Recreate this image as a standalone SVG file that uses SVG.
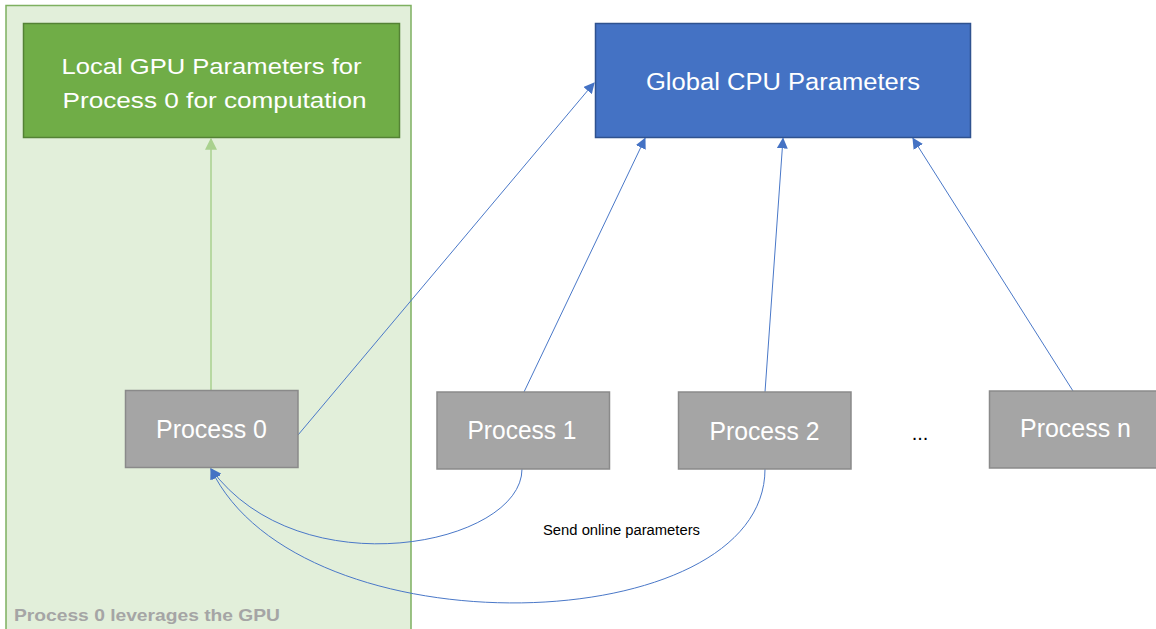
<svg xmlns="http://www.w3.org/2000/svg" width="1156" height="629" viewBox="0 0 1156 629">
  <style>
    .lbl { font-family: "Liberation Sans", Arial, sans-serif; fill: #ffffff; text-anchor: middle; }
    .proc rect { fill: #a5a5a5; stroke: #8a8a8a; stroke-width: 1.5; }
    .proc text { font-size: 25px; }
    .link { fill: none; stroke: #4a78c8; stroke-width: 1; }
  </style>
  <defs>
    <marker id="arrowBlue" viewBox="0 0 10 10" refX="9" refY="5" markerWidth="11" markerHeight="11" markerUnits="userSpaceOnUse" orient="auto">
      <path d="M0,0 L10,5 L0,10 Z" fill="#4472c4"/>
    </marker>
    <marker id="arrowGreen" viewBox="0 0 10 10" refX="9" refY="5" markerWidth="12" markerHeight="12" markerUnits="userSpaceOnUse" orient="auto">
      <path d="M0,0 L10,5 L0,10 Z" fill="#a9d18e"/>
    </marker>
  </defs>

  <rect width="1156" height="629" fill="#ffffff"/>

  <!-- GPU region -->
  <g id="gpu-region">
    <rect x="6" y="5.5" width="405" height="630" fill="#e2efda" stroke="#7eb060" stroke-width="1.5"/>
    <text x="14" y="621" font-family="Liberation Sans, Arial, sans-serif" font-size="17" font-weight="bold" fill="#a5a5a5" textLength="266" lengthAdjust="spacingAndGlyphs">Process 0 leverages the GPU</text>
  </g>

  <!-- Connectors -->
  <g id="connectors">
    <line x1="211" y1="390" x2="211" y2="139" stroke="#a9d18e" stroke-width="1.5" marker-end="url(#arrowGreen)"/>
    <line class="link" x1="298" y1="435" x2="594" y2="83" marker-end="url(#arrowBlue)"/>
    <line class="link" x1="524" y1="392" x2="645" y2="138.5" marker-end="url(#arrowBlue)"/>
    <line class="link" x1="765" y1="392" x2="783" y2="138.5" marker-end="url(#arrowBlue)"/>
    <line class="link" x1="1073" y1="391" x2="913" y2="138.5" marker-end="url(#arrowBlue)"/>
    <path class="link" d="M522,469 C522,545 300,590 211,469" marker-end="url(#arrowBlue)"/>
    <path class="link" d="M765,469 C765,640 300,655 211,469" marker-end="url(#arrowBlue)"/>
    <text x="621.5" y="535" font-family="Liberation Sans, Arial, sans-serif" font-size="14" fill="#000000" text-anchor="middle" textLength="157" lengthAdjust="spacingAndGlyphs">Send online parameters</text>
  </g>

  <!-- Local GPU parameters -->
  <g id="local-gpu">
    <rect x="23.5" y="23.5" width="376" height="114" fill="#70ad47" stroke="#548235" stroke-width="1.5"/>
    <text class="lbl" x="211.5" y="74" font-size="22.5" textLength="300" lengthAdjust="spacingAndGlyphs">Local GPU Parameters for</text>
    <text class="lbl" x="214.5" y="108" font-size="22.5" textLength="304" lengthAdjust="spacingAndGlyphs">Process 0 for computation</text>
  </g>

  <!-- Global CPU parameters -->
  <g id="global-cpu">
    <rect x="595.5" y="23.5" width="375" height="114" fill="#4472c4" stroke="#2f528f" stroke-width="1.5"/>
    <text class="lbl" x="783" y="90" font-size="23.5" textLength="274" lengthAdjust="spacingAndGlyphs">Global CPU Parameters</text>
  </g>

  <g id="process-0" class="proc">
    <rect x="125.5" y="390.5" width="172.5" height="77"/>
    <text class="lbl" x="211.5" y="438" textLength="111" lengthAdjust="spacingAndGlyphs">Process 0</text>
  </g>

  <g id="process-1" class="proc">
    <rect x="437" y="392" width="172.5" height="77"/>
    <text class="lbl" x="522" y="439" textLength="109" lengthAdjust="spacingAndGlyphs">Process 1</text>
  </g>

  <g id="process-2" class="proc">
    <rect x="678.5" y="392" width="172.5" height="77"/>
    <text class="lbl" x="764.5" y="440" textLength="110" lengthAdjust="spacingAndGlyphs">Process 2</text>
  </g>

  <g id="ellipsis">
    <text x="920" y="440" font-family="Liberation Sans, Arial, sans-serif" font-size="20" fill="#000000" text-anchor="middle">...</text>
  </g>

  <g id="process-n" class="proc">
    <rect x="989.5" y="391" width="172.5" height="77"/>
    <text class="lbl" x="1075.5" y="437" textLength="111" lengthAdjust="spacingAndGlyphs">Process n</text>
  </g>
</svg>
